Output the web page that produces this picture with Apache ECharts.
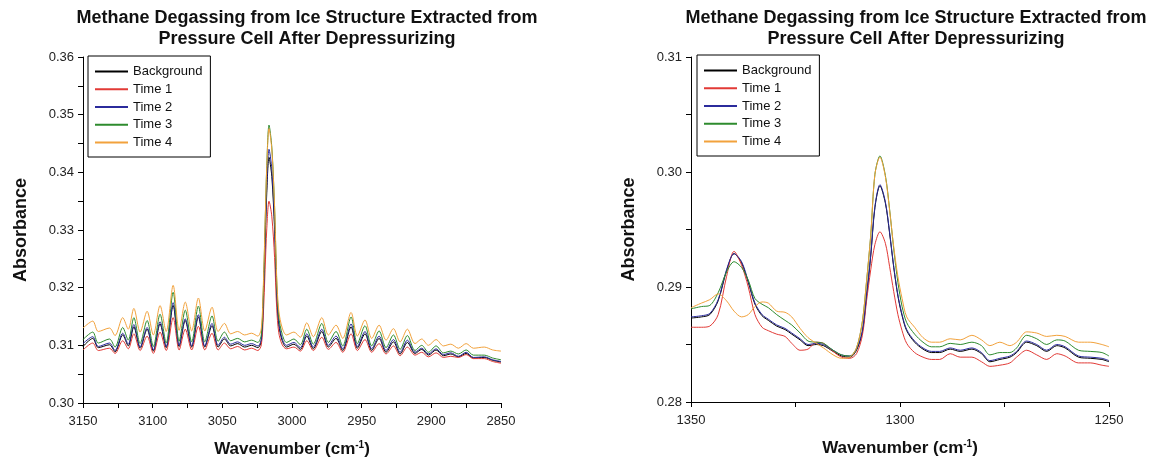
<!DOCTYPE html>
<html>
<head>
<meta charset="utf-8">
<title>Methane Degassing</title>
<script src="https://cdn.jsdelivr.net/npm/echarts@6/dist/echarts.min.js"></script>
<style>
  html, body { margin: 0; background: #fff; }
  #chart { width: 1151px; height: 463px; }
</style>
</head>
<body>
<div id="chart"></div>
<script>
// series names and colours (legend order = draw order)
var names = ['Background', 'Time 1', 'Time 2', 'Time 3', 'Time 4'];
var colors = ['#000000', '#e23a36', '#2b2b9c', '#2e8b2e', '#f2a23c'];

var titleText = 'Methane Degassing from Ice Structure Extracted from\nPressure Cell After Depressurizing';

// ---- left panel: 3150 - 2850 cm-1 ----
var leftWn = [3150, 3143, 3139, 3131, 3127, 3121.5, 3117.5, 3113.5, 3109, 3104, 3099.5, 3094.7, 3090.3, 3085.3, 3081, 3076.6, 3072, 3067.2, 3062.6, 3057.4,
  3053, 3048.5, 3044, 3039, 3034, 3029, 3024.5, 3022, 3020.6, 3019.3, 3018.1, 3016.5, 3014.5, 3012.5, 3011, 3009.5, 3007, 3004, 2998.6, 2994,
  2989.4, 2984.7, 2978.6, 2973.9, 2968.4, 2963.6, 2957.6, 2953.1, 2947.6, 2942.8, 2937.5, 2932.5, 2927.2, 2922.4, 2917.2, 2911.7, 2906.9, 2902.1, 2896.6, 2891.3,
  2886, 2880.6, 2875, 2869.8, 2862, 2856, 2850];

var leftBackground = [.3098, .3112, .3096, .3101, .3089, .3118, .3099, .3132, .3095, .3128, .3090, .3137, .3096, .3169, .3098, .3143, .3097, .3149, .3097, .3134,
  .3097, .3111, .3099, .3103, .3097, .3100, .3096, .3108, .3174, .3275, .3365, .3426, .3393, .3301, .3190, .3136, .3108, .3097, .3102, .3093,
  .3116, .3094, .3124, .3097, .3112, .3091, .3132, .3095, .3120, .3091, .3112, .3088, .3106, .3085, .3105, .3086, .3093, .3083, .3092, .3082,
  .3085, .3080, .3086, .3078, .3079, .3074, .3071];
var leftTime1 = [.3092, .3104, .3091, .3095, .3086, .3108, .3094, .3120, .3091, .3116, .3086, .3123, .3091, .3148, .3092, .3128, .3092, .3133, .3092, .3121,
  .3092, .3104, .3094, .3098, .3092, .3095, .3091, .3101, .3152, .3231, .3302, .3350, .3324, .3252, .3165, .3122, .3101, .3094, .3097, .3090,
  .3108, .3091, .3114, .3093, .3105, .3088, .3120, .3091, .3110, .3088, .3103, .3085, .3099, .3082, .3097, .3083, .3088, .3080, .3087, .3079,
  .3081, .3079, .3084, .3077, .3077, .3072, .3069];
var leftTime2 = [.3103, .3115, .3098, .3104, .3091, .3121, .3102, .3136, .3097, .3131, .3092, .3141, .3098, .3174, .3100, .3146, .3099, .3153, .3099, .3138,
  .3100, .3114, .3102, .3106, .3100, .3103, .3099, .3111, .3180, .3283, .3376, .3440, .3406, .3311, .3196, .3140, .3111, .3100, .3105, .3096,
  .3120, .3097, .3128, .3100, .3116, .3094, .3137, .3098, .3124, .3094, .3116, .3091, .3110, .3088, .3109, .3088, .3095, .3085, .3094, .3084,
  .3087, .3081, .3088, .3079, .3080, .3075, .3072];
var leftTime3 = [.3110, .3123, .3104, .3111, .3097, .3131, .3109, .3148, .3103, .3143, .3098, .3154, .3104, .3192, .3107, .3161, .3106, .3168, .3106, .3151,
  .3107, .3123, .3108, .3112, .3106, .3109, .3105, .3119, .3194, .3309, .3412, .3482, .3444, .3339, .3212, .3150, .3119, .3105, .3111, .3101,
  .3128, .3102, .3138, .3105, .3124, .3099, .3149, .3103, .3134, .3099, .3125, .3096, .3118, .3093, .3117, .3091, .3100, .3088, .3099, .3087,
  .3090, .3085, .3092, .3083, .3083, .3078, .3075];
var leftTime4 = [.3130, .3142, .3124, .3130, .3117, .3148, .3128, .3164, .3123, .3159, .3118, .3169, .3124, .3204, .3126, .3175, .3125, .3182, .3125, .3166,
  .3124, .3138, .3120, .3124, .3118, .3121, .3116, .3130, .3202, .3311, .3409, .3476, .3440, .3340, .3219, .3160, .3130, .3118, .3123, .3114,
  .3139, .3115, .3148, .3118, .3135, .3112, .3157, .3116, .3144, .3112, .3135, .3109, .3129, .3106, .3128, .3103, .3111, .3100, .3110, .3099,
  .3102, .3095, .3103, .3095, .3097, .3092, .3090];

// ---- right panel: 1350 - 1250 cm-1 ----
var rightWn = [1350, 1347.5, 1345.5, 1343.5, 1341.5, 1339.7, 1337.9, 1336.3, 1334.7, 1333, 1331.5, 1329.5, 1327.5, 1325.9, 1323.9, 1322, 1320, 1318.3, 1316, 1314,
  1312, 1310.4, 1309, 1308, 1307, 1306, 1304.8, 1303.5, 1302.5, 1301.5, 1300.5, 1299.5, 1298.4, 1296.5, 1294.5, 1292.5, 1290.5, 1288, 1285.6, 1282.8,
  1280.5, 1278.5, 1276.1, 1273.7, 1272.1, 1269.7, 1267.3, 1264.9, 1262.5, 1260.5, 1257.3, 1254.5, 1251.7, 1250];

var rightBackground = [.2873, .2874, .2876, .2888, .2914, .2929, .2921, .2904, .2885, .2875, .2871, .2866, .2863, .2859, .2854, .2849, .2850, .2849, .2844, .2840,
  .2839, .2845, .2861, .2892, .2927, .2969, .2988, .2973, .2947, .2917, .2892, .2875, .2862, .2852, .2846, .2843, .2843, .2846, .2844, .2846,
  .2842, .2835, .2837, .2839, .2843, .2852, .2849, .2844, .2849, .2847, .2839, .2838, .2837, .2835];
var rightTime1 = [.2865, .2865, .2866, .2876, .2909, .2931, .2919, .2900, .2876, .2865, .2862, .2859, .2857, .2851, .2845, .2846, .2852, .2851, .2844, .2839,
  .2838, .2842, .2858, .2888, .2915, .2937, .2948, .2938, .2918, .2896, .2876, .2862, .2851, .2843, .2839, .2837, .2837, .2842, .2839, .2839,
  .2835, .2831, .2832, .2834, .2839, .2845, .2841, .2837, .2842, .2840, .2834, .2834, .2832, .2831];
var rightTime2 = [.2874, .2875, .2877, .2889, .2915, .2929, .2922, .2905, .2886, .2876, .2872, .2867, .2864, .2860, .2855, .2850, .2851, .2850, .2845, .2841,
  .2840, .2846, .2862, .2893, .2928, .2970, .2989, .2974, .2948, .2918, .2893, .2876, .2863, .2853, .2847, .2844, .2844, .2847, .2845, .2847,
  .2843, .2836, .2838, .2840, .2844, .2853, .2850, .2845, .2850, .2848, .2840, .2839, .2838, .2836];
var rightTime3 = [.2881, .2883, .2884, .2895, .2913, .2922, .2917, .2906, .2890, .2885, .2882, .2876, .2871, .2867, .2860, .2853, .2852, .2851, .2845, .2841,
  .2840, .2847, .2870, .2905, .2945, .2998, .3014, .2997, .2968, .2933, .2904, .2883, .2869, .2859, .2852, .2848, .2848, .2851, .2850, .2852,
  .2849, .2841, .2843, .2843, .2847, .2858, .2855, .2850, .2854, .2853, .2845, .2844, .2843, .2840];
var rightTime4 = [.2882, .2886, .2889, .2894, .2888, .2879, .2874, .2876, .2883, .2887, .2886, .2879, .2878, .2874, .2864, .2856, .2851, .2847, .2841, .2838,
  .2839, .2847, .2870, .2905, .2945, .2998, .3013, .2996, .2967, .2935, .2909, .2890, .2874, .2865, .2856, .2852, .2852, .2855, .2854, .2858,
  .2854, .2849, .2852, .2849, .2852, .2861, .2860, .2857, .2858, .2857, .2852, .2852, .2850, .2848];

var leftSets = [leftBackground, leftTime1, leftTime2, leftTime3, leftTime4];
var rightSets = [rightBackground, rightTime1, rightTime2, rightTime3, rightTime4];

var font = 'Liberation Sans, Arial, sans-serif';

function pairs(xs, ys) {
  return xs.map(function (x, i) { return [x, ys[i]]; });
}

function makeSeries(idx, xs, sets) {
  return sets.map(function (ys, k) {
    return {
      name: names[k],
      type: 'line',
      xAxisIndex: idx,
      yAxisIndex: idx,
      data: pairs(xs, ys),
      symbol: 'none',
      smooth: 0.3,
      lineStyle: { width: 1, color: colors[k] },
      itemStyle: { color: colors[k] },
      z: 2 + k
    };
  });
}

function xAxisCfg(idx, min, max) {
  return {
    gridIndex: idx, type: 'value', inverse: true,
    min: min, max: max, interval: 25,
    name: 'Wavenumber (cm{sup|-1})',
    nameLocation: 'middle', nameGap: 37,
    nameTextStyle: {
      fontFamily: font, fontWeight: 'bold', fontSize: 17, color: '#111',
      rich: { sup: { fontFamily: font, fontWeight: 'bold', fontSize: 10, color: '#111', verticalAlign: 'top', padding: [0, 0, 8, 0] } }
    },
    axisLine: { lineStyle: { color: '#000', width: 1 } },
    axisTick: { length: 5, lineStyle: { color: '#000' } },
    axisLabel: {
      margin: 12, fontFamily: font, fontSize: 13, color: '#222',
      formatter: function (v) { return v % 50 === 0 ? String(v) : ''; }
    },
    splitLine: { show: false }
  };
}

function yAxisCfg(idx, min, max) {
  return {
    gridIndex: idx, type: 'value',
    min: min, max: max, interval: 0.005,
    name: 'Absorbance',
    nameLocation: 'middle', nameGap: 53,
    nameTextStyle: { fontFamily: font, fontWeight: 'bold', fontSize: 18, color: '#111' },
    axisLine: { show: true, lineStyle: { color: '#000', width: 1 } },
    axisTick: { show: true, length: 5, lineStyle: { color: '#000' } },
    axisLabel: {
      margin: 9, fontFamily: font, fontSize: 13, color: '#222',
      formatter: function (v) { return Math.round(v * 1000) % 10 === 0 ? v.toFixed(2) : ''; }
    },
    splitLine: { show: false }
  };
}

function legendCfg(left, top) {
  return {
    data: names, orient: 'vertical', left: left, top: top,
    padding: [9, 8, 8, 6], itemGap: 4.75, itemWidth: 33, itemHeight: 13,
    borderColor: '#000', borderWidth: 1, backgroundColor: '#fff',
    itemStyle: { opacity: 0 },
    textStyle: { fontFamily: font, fontSize: 13, color: '#111' },
    selectedMode: false
  };
}

var chart = echarts.init(document.getElementById('chart'), null, { renderer: 'canvas' });

var option = {
  animation: false,
  backgroundColor: '#fff',
  title: [
    { text: titleText, left: 302, top: 3, textAlign: 'center',
      textStyle: { fontFamily: font, fontWeight: 'bold', fontSize: 18, lineHeight: 21, color: '#111' } },
    { text: titleText, left: 911, top: 3, textAlign: 'center',
      textStyle: { fontFamily: font, fontWeight: 'bold', fontSize: 18, lineHeight: 21, color: '#111' } }
  ],
  legend: [legendCfg(88, 56), legendCfg(697, 55)],
  grid: [
    { left: 83, top: 57, width: 418, height: 346 },
    { left: 691, top: 57, width: 418, height: 345 }
  ],
  xAxis: [xAxisCfg(0, 2850, 3150), xAxisCfg(1, 1250, 1350)],
  yAxis: [yAxisCfg(0, 0.30, 0.36), yAxisCfg(1, 0.28, 0.31)],
  series: makeSeries(0, leftWn, leftSets).concat(makeSeries(1, rightWn, rightSets))
};

chart.setOption(option);
window.addEventListener('resize', chart.resize);
</script>
</body>
</html>
